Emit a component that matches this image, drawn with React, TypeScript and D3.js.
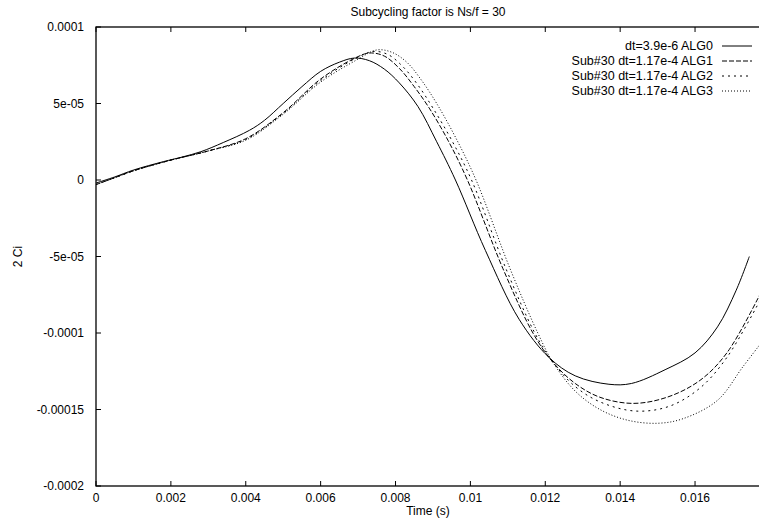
import React, { useEffect, useRef } from "react";
import * as d3 from "d3";

const xTicks = [0, 0.002, 0.004, 0.006, 0.008, 0.01, 0.012, 0.014, 0.016];
const xTickLabels = ["0", "0.002", "0.004", "0.006", "0.008", "0.01", "0.012", "0.014", "0.016"];
const yTicks = [0.0001, 0.00005, 0, -0.00005, -0.0001, -0.00015, -0.0002];
const yTickLabels = ["0.0001", "5e-05", "0", "-5e-05", "-0.0001", "-0.00015", "-0.0002"];

const seriesNames = [
  "dt=3.9e-6 ALG0",
  "Sub#30 dt=1.17e-4 ALG1",
  "Sub#30 dt=1.17e-4 ALG2",
  "Sub#30 dt=1.17e-4 ALG3",
];

const alg0T = [0, 0.0005, 0.001, 0.0018, 0.0023, 0.0028, 0.0034, 0.0041, 0.0045, 0.005, 0.0055, 0.006, 0.0065, 0.0069, 0.0073, 0.0077, 0.0081, 0.0086, 0.0091, 0.0096, 0.0104, 0.0113, 0.0121, 0.0128, 0.0137, 0.0143, 0.0152, 0.016, 0.0166, 0.0171, 0.01745];
const alg0V = [-2e-6, 2e-6, 6.5e-6, 1.2e-5, 1.5e-5, 1.85e-5, 2.45e-5, 3.25e-5, 3.9e-5, 5.0e-5, 6.1e-5, 7.1e-5, 7.7e-5, 7.97e-5, 7.8e-5, 7.25e-5, 6.35e-5, 4.8e-5, 2.5e-5, 0, -4.6e-5, -9.1e-5, -1.16e-4, -1.28e-4, -1.335e-4, -1.33e-4, -1.24e-4, -1.13e-4, -9.6e-5, -7.2e-5, -5.0e-5];

const alg1T = [0, 0.0005, 0.001, 0.002, 0.003, 0.004, 0.005, 0.006, 0.0069, 0.0073, 0.0077, 0.0081, 0.0085, 0.0089, 0.0094, 0.00992, 0.01087, 0.01167, 0.0122, 0.0128, 0.01346, 0.01434, 0.01525, 0.01613, 0.01685, 0.01775];
const alg1V = [-3e-6, 1.5e-6, 6e-6, 1.3e-5, 1.9e-5, 2.7e-5, 4.4e-5, 6.6e-5, 7.95e-5, 8.3e-5, 8.1e-5, 7.3e-5, 6.1e-5, 4.7e-5, 2.6e-5, 0, -5.8e-5, -1.0e-4, -1.19e-4, -1.33e-4, -1.42e-4, -1.46e-4, -1.42e-4, -1.31e-4, -1.13e-4, -7.4e-5];

const alg2T = [0, 0.0005, 0.001, 0.002, 0.003, 0.004, 0.005, 0.006, 0.0069, 0.0074, 0.0078, 0.0082, 0.0086, 0.009, 0.0095, 0.01003, 0.01095, 0.01172, 0.0122, 0.0128, 0.01346, 0.0144, 0.0153, 0.01613, 0.01685, 0.01775];
const alg2V = [-3e-6, 1.5e-6, 6e-6, 1.3e-5, 1.9e-5, 2.65e-5, 4.35e-5, 6.5e-5, 7.9e-5, 8.4e-5, 8.2e-5, 7.4e-5, 6.2e-5, 4.7e-5, 2.6e-5, 0, -5.8e-5, -1.0e-4, -1.19e-4, -1.35e-4, -1.45e-4, -1.51e-4, -1.48e-4, -1.36e-4, -1.16e-4, -7.8e-5];

const alg3T = [0, 0.0005, 0.001, 0.002, 0.003, 0.004, 0.005, 0.006, 0.007, 0.0075, 0.0079, 0.0083, 0.0087, 0.0091, 0.0096, 0.01015, 0.01106, 0.0118, 0.0122, 0.0128, 0.01346, 0.0142, 0.015, 0.01568, 0.0166, 0.01728, 0.01775];
const alg3V = [-3e-6, 1.5e-6, 6e-6, 1.3e-5, 1.9e-5, 2.6e-5, 4.3e-5, 6.4e-5, 7.9e-5, 8.5e-5, 8.35e-5, 7.7e-5, 6.5e-5, 5.0e-5, 2.8e-5, 0, -5.8e-5, -1.0e-4, -1.19e-4, -1.38e-4, -1.5e-4, -1.57e-4, -1.59e-4, -1.56e-4, -1.44e-4, -1.22e-4, -1.07e-4];

const dashes = ["none", "5,2", "2,4", "1,2"];

export default function App() {
  const ref = useRef<SVGSVGElement>(null);
  useEffect(() => {
    const svg = d3.select(ref.current);
    svg.selectAll("*").remove();
    const W = 759, H = 522;
    const left = 96, right = 760, top = 27, bottom = 486;
    const x = d3.scaleLinear().domain([0, 0.017735]).range([left, right]);
    const y = d3.scaleLinear().domain([-0.0002, 0.0001]).range([bottom, top]);
    const font = "Liberation Sans, Arial, sans-serif";

    svg.append("rect").attr("width", W).attr("height", H).attr("fill", "white");

    svg.append("rect").attr("x", left).attr("y", top).attr("width", right - left).attr("height", bottom - top)
      .attr("fill", "none").attr("stroke", "black").attr("stroke-width", 1.3);

    yTicks.forEach((v, i) => {
      svg.append("line").attr("x1", left).attr("x2", left + 5).attr("y1", y(v)).attr("y2", y(v)).attr("stroke", "black");
      svg.append("text").attr("x", left - 12).attr("y", y(v) + 4).attr("text-anchor", "end")
        .attr("font-family", font).attr("font-size", 12).text(yTickLabels[i]);
    });
    xTicks.forEach((v, i) => {
      svg.append("line").attr("x1", x(v)).attr("x2", x(v)).attr("y1", bottom).attr("y2", bottom - 5).attr("stroke", "black");
      svg.append("line").attr("x1", x(v)).attr("x2", x(v)).attr("y1", top).attr("y2", top + 5).attr("stroke", "black");
      svg.append("text").attr("x", x(v)).attr("y", bottom + 16).attr("text-anchor", "middle")
        .attr("font-family", font).attr("font-size", 12).text(xTickLabels[i]);
    });

    svg.append("text").attr("x", 428).attr("y", 16).attr("text-anchor", "middle")
      .attr("font-family", font).attr("font-size", 12).text("Subcycling factor is Ns/f = 30");
    svg.append("text").attr("x", 428).attr("y", 515).attr("text-anchor", "middle")
      .attr("font-family", font).attr("font-size", 12).text("Time (s)");
    svg.append("text").attr("transform", `translate(22,${(top + bottom) / 2}) rotate(-90)`).attr("text-anchor", "middle")
      .attr("font-family", font).attr("font-size", 12).text("2 Ci");

    const data = [
      [alg0T, alg0V],
      [alg1T, alg1V],
      [alg2T, alg2V],
      [alg3T, alg3V],
    ];
    const line = d3.line<[number, number]>().x(d => x(d[0])).y(d => y(d[1])).curve(d3.curveCatmullRom.alpha(0.5));
    svg.append("clipPath").attr("id", "clip").append("rect")
      .attr("x", left).attr("y", top).attr("width", right - left).attr("height", bottom - top);
    const g = svg.append("g").attr("clip-path", "url(#clip)");
    data.forEach(([ts, vs], i) => {
      const pts = ts.map((t, j) => [t, vs[j]] as [number, number]);
      g.append("path").attr("d", line(pts)).attr("fill", "none").attr("stroke", "black")
        .attr("stroke-width", 1).attr("stroke-dasharray", dashes[i]);
    });

    seriesNames.forEach((name, i) => {
      const cy = 46 + i * 15;
      svg.append("text").attr("x", 713).attr("y", cy + 4).attr("text-anchor", "end")
        .attr("font-family", font).attr("font-size", 12.5).text(name);
      svg.append("line").attr("x1", 722).attr("x2", 752).attr("y1", cy).attr("y2", cy)
        .attr("stroke", "black").attr("stroke-width", 1).attr("stroke-dasharray", dashes[i]);
    });
  }, []);
  return <svg ref={ref} width={759} height={522} style={{ position: "absolute", left: 0, top: 0 }} />;
}
